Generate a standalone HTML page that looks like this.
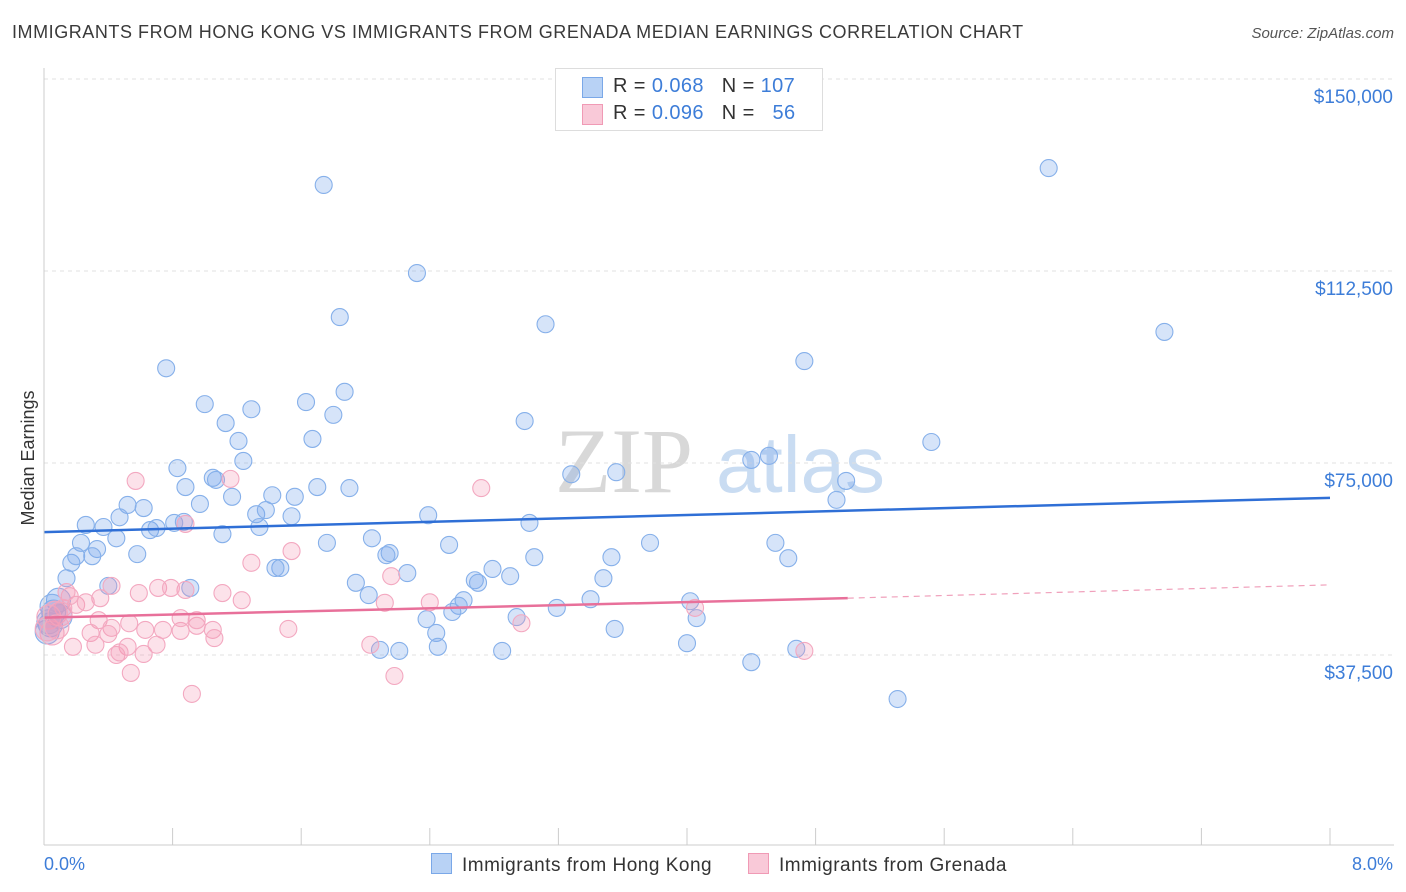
<!DOCTYPE html>
<html><head><meta charset="utf-8"><style>
body{margin:0;width:1406px;height:892px;background:#fff;font-family:"Liberation Sans",sans-serif;overflow:hidden;position:relative}
.t{position:absolute;white-space:nowrap}
</style></head><body>
<div class="t" style="left:12px;top:22px;font-size:18px;color:#3a3a3a;letter-spacing:0.55px">IMMIGRANTS FROM HONG KONG VS IMMIGRANTS FROM GRENADA MEDIAN EARNINGS CORRELATION CHART</div>
<div class="t" style="right:12px;top:25px;font-size:15px;color:#555;font-style:italic">Source: ZipAtlas.com</div>
<svg id="chart" width="1406" height="892" style="position:absolute;left:0;top:0">
<text x="555" y="492" font-size="92" fill="#d8d8d8" font-family="Liberation Serif">ZIP</text>
<text x="716" y="492" font-size="80" fill="#c9dcf2">atlas</text>
<text transform="translate(34,458) rotate(-90)" text-anchor="middle" font-size="18" fill="#333">Median Earnings</text>
<g id="grid"></g><g id="pts"></g><g id="lines"></g>
<line x1="44" y1="68" x2="44" y2="845" stroke="#ccc"/>
<line x1="44" y1="845" x2="1394" y2="845" stroke="#ccc"/>
<text x="44" y="870" font-size="18" fill="#3d7dd8">0.0%</text>
<text x="1393" y="870" text-anchor="end" font-size="18" fill="#3d7dd8">8.0%</text>
</svg>
<div style="position:absolute;left:555px;top:68px;width:266px;height:61px;border:1px solid #ddd;background:#fff;font-size:20px;letter-spacing:0.4px">
<div style="position:absolute;left:26px;top:8px;width:19px;height:19px;background:#b8d2f5;border:1px solid #7aa8e8"></div>
<div class="t" style="left:57px;top:6px;color:#333">R = <span style="color:#3d7dd8">0.068</span>&nbsp;&nbsp;&nbsp;N = <span style="color:#3d7dd8">107</span></div>
<div style="position:absolute;left:26px;top:35px;width:19px;height:19px;background:#f9c9d8;border:1px solid #f09ab5"></div>
<div class="t" style="left:57px;top:33px;color:#333">R = <span style="color:#3d7dd8">0.096</span>&nbsp;&nbsp;&nbsp;N = &nbsp;&nbsp;<span style="color:#3d7dd8">56</span></div>
</div>
<div style="position:absolute;top:853px;left:431px;font-size:19px;color:#333;letter-spacing:0.5px">
<span style="position:absolute;left:0;top:0;white-space:nowrap"><span style="display:inline-block;width:19px;height:19px;background:#b8d2f5;border:1px solid #7aa8e8;vertical-align:-3px;margin-right:10px"></span>Immigrants from Hong Kong</span>
<span style="position:absolute;left:317px;top:0;white-space:nowrap"><span style="display:inline-block;width:19px;height:19px;background:#f9c9d8;border:1px solid #f09ab5;vertical-align:-3px;margin-right:10px"></span>Immigrants from Grenada</span>
</div>
<script>
const yTicks=[37500,75000,112500,150000];
const yTickLabels=["$37,500","$75,000","$112,500","$150,000"];
const xTicks=[0,0.8,1.6,2.4,3.2,4,4.8,5.6,6.4,7.2,8];
const blueX=[1.74,6.25,2.32,1.84,3.12,6.97,0.76,4.73,1.87,1.00,1.63,1.29,1.80,1.13,2.99,1.21,1.67,5.52,1.24,0.83,3.28,3.56,4.40,4.51,4.99,0.88,1.05,1.07,1.42,1.56,1.70,1.90,1.17,0.52,0.62,0.97,4.93,0.47,1.32,1.38,1.54,2.39,0.26,0.37,0.66,0.70,0.81,0.87,3.02,1.34,1.11,0.45,0.23,0.33,0.17,0.20,0.30,0.58,1.76,2.04,2.52,3.77,4.55,2.15,2.13,3.05,3.53,4.63,0.14,0.40,0.91,1.94,2.26,2.68,2.70,2.79,2.90,3.48,0.09,0.06,0.04,2.02,2.61,2.58,2.54,3.40,3.19,4.02,2.94,2.38,4.06,2.44,3.55,4.00,2.09,2.21,2.45,2.85,4.68,4.40,5.31,1.47,1.44,0.02,0.05,0.10,0.03];
const blueY=[129300,132600,112100,103500,102100,100600,93500,94900,88900,86500,86900,85500,84400,82800,83200,79300,79700,79100,75400,74000,72800,73200,75600,76400,71500,70300,72100,71700,68700,68400,70300,70100,68400,66800,66200,67000,67800,64400,65000,65800,64600,64800,62900,62500,61900,62300,63300,63500,63300,62500,61100,60300,59400,58200,55500,56800,56800,57200,59400,60300,59000,59400,59400,57400,57000,56600,56600,56400,52500,51000,50600,51600,53500,52100,51600,54300,52900,52500,48200,45900,43400,49200,48200,47100,45900,48400,46700,48000,44900,44500,44700,41800,42600,39800,38500,38300,39100,38300,38700,36100,28900,54500,54500,42000,47000,45000,44000];
const pinkX=[0.57,1.16,2.72,0.88,1.29,1.54,2.16,0.42,0.71,0.88,0.79,0.59,1.11,1.23,0.35,0.20,0.26,0.16,0.14,0.12,0.07,0.03,0.34,0.42,0.53,0.63,0.74,0.85,0.95,1.05,1.06,0.40,0.29,0.32,0.52,0.70,0.45,0.62,0.18,1.52,2.12,2.40,2.97,4.05,4.73,2.03,2.18,0.54,0.92,0.05,0.02,0.85,0.95,0.47,0.10,0.08];
const pinkY=[71500,71900,70100,63100,55500,57800,52900,51000,50600,50200,50600,49600,49600,48200,48600,47300,47800,49000,49800,46700,45700,44900,44300,42800,43700,42400,42400,42200,43200,42400,40800,41600,41800,39500,39100,39500,37500,37700,39100,42600,47700,47800,43700,46700,38300,39500,33400,34000,29900,41800,42600,44700,44300,38000,45500,43000];
const blueTrend=[61500,68200];
const pinkTrendSolid=[44800,48600,5.0];
const pinkTrendEnd=51200;
const NS="http://www.w3.org/2000/svg";
const X0=44,X1=1330,Yb=847,Ypx=192/37500;
function sx(v){return X0+v/8*(X1-X0);}
function sy(v){return Yb-v*Ypx;}
const grid=document.getElementById('grid'),svg=document.getElementById('chart');
yTicks.forEach((t,i)=>{
 const l=document.createElementNS(NS,'line');
 l.setAttribute('x1',44);l.setAttribute('x2',1394);l.setAttribute('y1',sy(t));l.setAttribute('y2',sy(t));
 l.setAttribute('stroke','#e0e0e0');l.setAttribute('stroke-dasharray','4,4');
 
 
 grid.appendChild(l);
 const tx=document.createElementNS(NS,'text');
 tx.setAttribute('x',1393);tx.setAttribute('y',sy(t)+24);tx.setAttribute('text-anchor','end');
 tx.setAttribute('font-size','19');tx.setAttribute('fill','#3d7dd8');tx.textContent=yTickLabels[i];
 
 
 svg.appendChild(tx);
});
xTicks.forEach(t=>{
 const l=document.createElementNS(NS,'line');
 l.setAttribute('x1',sx(t));l.setAttribute('x2',sx(t));l.setAttribute('y1',828);l.setAttribute('y2',845);
 l.setAttribute('stroke','#ccc');
 
 
 grid.appendChild(l);
});
const pts=document.getElementById('pts');
function dots(xs,ys,fill,stroke,name){
 xs.forEach((x,i)=>{
  const c=document.createElementNS(NS,'circle');
  c.setAttribute('cx',sx(x));c.setAttribute('cy',sy(ys[i]));
  c.setAttribute('r',x<0.12?12:8.5);
  c.setAttribute('fill',fill);c.setAttribute('stroke',stroke);c.setAttribute('stroke-width','1.1');
  
  
  pts.appendChild(c);
 });
}
dots(blueX,blueY,'rgba(120,165,235,0.3)','#86b0ea','hongkong-point');
dots(pinkX,pinkY,'rgba(245,150,180,0.28)','#f3a8c0','grenada-point');
const lg=document.getElementById('lines');
function ln(x1,y1,x2,y2,col,dash,name){
 const l=document.createElementNS(NS,'line');
 l.setAttribute('x1',sx(x1));l.setAttribute('y1',sy(y1));l.setAttribute('x2',sx(x2));l.setAttribute('y2',sy(y2));
 l.setAttribute('stroke',col);l.setAttribute('stroke-width',dash?1.2:2.5);
 if(dash)l.setAttribute('stroke-dasharray','6,5');
 
 
 lg.appendChild(l);
}
ln(0,blueTrend[0],8,blueTrend[1],'#2f6fd6',false,'hongkong-trendline');
ln(0,pinkTrendSolid[0],pinkTrendSolid[2],pinkTrendSolid[1],'#e8709a',false,'grenada-trendline');
ln(pinkTrendSolid[2],pinkTrendSolid[1],8,pinkTrendEnd,'#f0a0bb',true,'grenada-trendline-extension');
</script>
</body></html>
